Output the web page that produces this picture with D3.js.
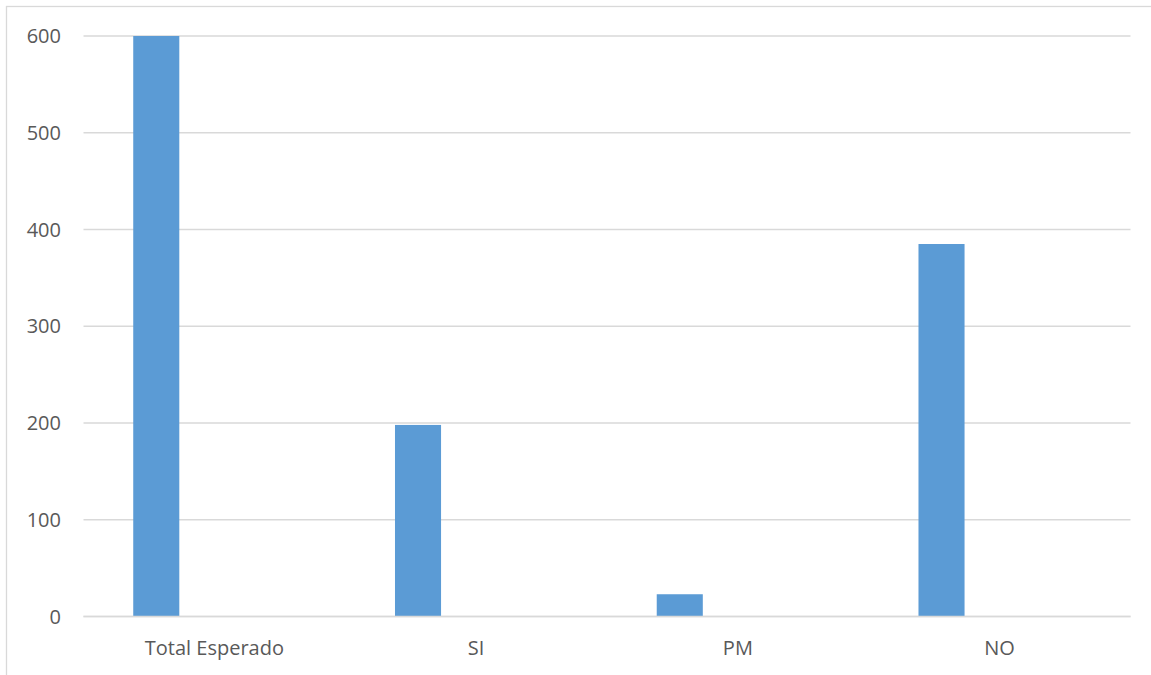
<!DOCTYPE html>
<html><head><meta charset="utf-8">
<script src="https://cdn.jsdelivr.net/npm/d3@7"></script>
<style>html,body{margin:0;padding:0;background:#fff;}svg{display:block;}</style>
</head><body>
<script>
const categories = ["Total Esperado", "SI", "PM", "NO"];
const values = [600, 198, 23, 385];
const yTicks = [0, 100, 200, 300, 400, 500, 600];

const W = 1151, H = 675;
const svg = d3.select("body").append("svg").attr("width", W).attr("height", H);

// outer chart border (extends past right/bottom edges)
svg.append("rect").attr("x", 6.5).attr("y", 6.5).attr("width", W + 10).attr("height", H + 10)
  .attr("fill", "none").attr("stroke", "#d9d9d9").attr("stroke-width", 1.3);

const plotLeft = 83.5, plotRight = 1130.5, plotTop = 36, plotBottom = 616.5;
const x = d3.scaleBand().domain(categories).range([plotLeft, plotRight]).padding(0);
const y = d3.scaleLinear().domain([0, 600]).range([plotBottom, plotTop]);

const font = "'Open Sans', sans-serif";

// gridlines
svg.append("g").selectAll("line").data(yTicks).join("line")
  .attr("x1", plotLeft).attr("x2", plotRight)
  .attr("y1", d => y(d)).attr("y2", d => y(d))
  .attr("stroke", "#d9d9d9").attr("stroke-width", 1.3);

// y tick labels
svg.append("g").selectAll("text").data(yTicks).join("text")
  .attr("x", 61).attr("y", d => y(d)).attr("dy", "0.36em")
  .attr("text-anchor", "end")
  .attr("font-family", font).attr("font-size", 20).attr("fill", "#595959")
  .text(d => d);

// bars: single series positioned in left part of each category band
const barOffset = 0.19, barWidth = 0.176;
svg.append("g").selectAll("rect").data(values).join("rect")
  .attr("x", (d, i) => x(categories[i]) + x.bandwidth() * barOffset)
  .attr("width", x.bandwidth() * barWidth)
  .attr("y", d => y(d))
  .attr("height", d => y(0) - y(d))
  .attr("fill", "#5B9BD5");

// axis line
svg.append("line").attr("x1", plotLeft).attr("x2", plotRight)
  .attr("y1", y(0)).attr("y2", y(0)).attr("stroke", "#d9d9d9").attr("stroke-width", 1.3);

// x labels
svg.append("g").selectAll("text").data(categories).join("text")
  .attr("x", d => x(d) + x.bandwidth() / 2).attr("y", 655)
  .attr("text-anchor", "middle")
  .attr("font-family", font).attr("font-size", 20).attr("fill", "#595959")
  .text(d => d);
</script>
</body></html>
